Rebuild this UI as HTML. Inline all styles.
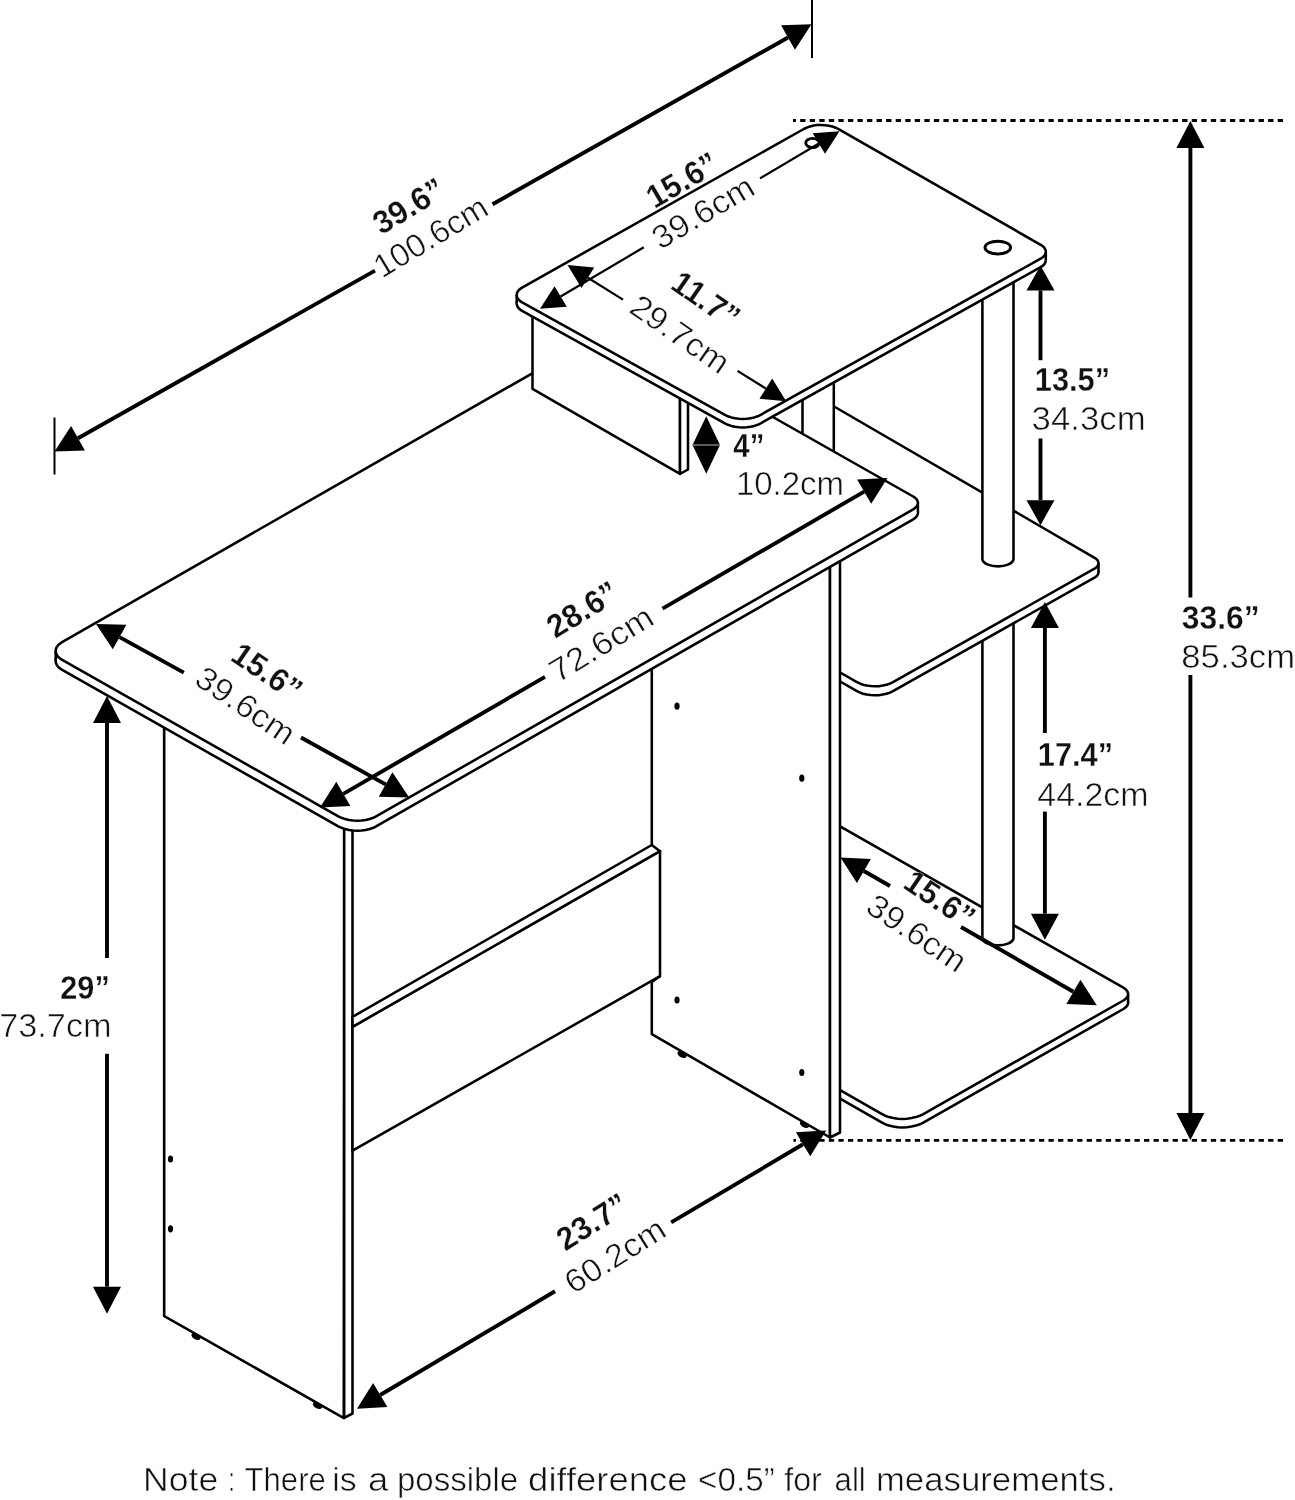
<!DOCTYPE html>
<html><head><meta charset="utf-8"><title>Desk dimensions</title>
<style>
html,body{margin:0;padding:0;background:#fff;}
body{width:1295px;height:1500px;overflow:hidden;}
svg{display:block;filter:grayscale(1);}
text{font-family:"Liberation Sans",sans-serif;fill:#111;}
text.r{stroke:#fff;stroke-width:0.55px;}
text.b{stroke:#fff;stroke-width:0.3px;}
</style></head><body>
<svg width="1295" height="1500" viewBox="0 0 1295 1500">
<rect width="1295" height="1500" fill="#fff"/>
<clipPath id="cR"><rect x="839" y="0" width="500" height="1500"/></clipPath>
<g clip-path="url(#cR)">
<path d="M820.0 823.5 L1123.4 996.2 L1125.0 997.3 L1126.3 998.5 L1127.3 999.8 L1127.9 1001.2 L1128.1 1002.6 L1127.9 1004.0 L1127.3 1005.4 L1126.3 1006.7 L1125.0 1007.9 L1123.4 1009.0 L923.3 1122.6 L919.8 1124.3 L915.8 1125.6 L911.5 1126.6 L907.0 1127.2 L902.4 1127.4 L897.8 1127.2 L893.3 1126.6 L889.0 1125.6 L885.1 1124.2 L881.6 1122.4 L820.0 1087.0 Z" fill="#fff" stroke="#000" stroke-width="2.55" stroke-linejoin="round" stroke-linecap="round" />
<path d="M820.0 815.0 L1128.1 994.1 L1128.1 1002.6 L820.0 823.5 Z" fill="#fff" stroke="none"/>
<line x1="820.0" y1="815.0" x2="820.0" y2="823.5" stroke="#000" stroke-width="2.55" stroke-linecap="butt"/>
<line x1="1128.1" y1="994.1" x2="1128.1" y2="1002.6" stroke="#000" stroke-width="2.55" stroke-linecap="butt"/>
<path d="M820.0 815.0 L1123.4 987.7 L1125.0 988.8 L1126.3 990.0 L1127.3 991.3 L1127.9 992.7 L1128.1 994.1 L1127.9 995.5 L1127.3 996.9 L1126.3 998.2 L1125.0 999.4 L1123.4 1000.5 L923.3 1114.1 L919.8 1115.8 L915.8 1117.1 L911.5 1118.1 L907.0 1118.7 L902.4 1118.9 L897.8 1118.7 L893.3 1118.1 L889.0 1117.1 L885.1 1115.7 L881.6 1113.9 L820.0 1078.5 Z" fill="#fff" stroke="#000" stroke-width="2.55" stroke-linejoin="round" stroke-linecap="round" />
</g>
<path d="M982.4 600.0 L982.4 938.5 A15.6 7.5 0 0 0 1013.5 938.5 L1013.5 600.0 Z" fill="#fff" stroke="#000" stroke-width="2.55"/>
<clipPath id="cM"><path d="M833.75 0 H1400 V1500 H839 V560 H833.75 Z"/></clipPath>
<g clip-path="url(#cM)">
<path d="M820.0 407.3 L1094.6 566.8 L1096.0 567.7 L1097.1 568.7 L1097.9 569.9 L1098.3 571.1 L1098.5 572.3 L1098.3 573.5 L1097.8 574.6 L1097.0 575.8 L1095.9 576.8 L1094.5 577.7 L893.0 691.1 L889.9 692.6 L886.5 693.8 L882.7 694.6 L878.8 695.2 L874.7 695.3 L870.7 695.1 L866.8 694.6 L863.0 693.7 L859.6 692.4 L856.5 690.9 L820.0 669.9 Z" fill="#fff" stroke="#000" stroke-width="2.55" stroke-linejoin="round" stroke-linecap="round" />
<path d="M820.0 398.3 L1098.5 563.3 L1098.5 572.3 L820.0 407.3 Z" fill="#fff" stroke="none"/>
<line x1="820.0" y1="398.3" x2="820.0" y2="407.3" stroke="#000" stroke-width="2.55" stroke-linecap="butt"/>
<line x1="1098.5" y1="563.3" x2="1098.5" y2="572.3" stroke="#000" stroke-width="2.55" stroke-linecap="butt"/>
<path d="M820.0 398.3 L1094.6 557.8 L1096.0 558.7 L1097.1 559.7 L1097.9 560.9 L1098.3 562.1 L1098.5 563.3 L1098.3 564.5 L1097.8 565.6 L1097.0 566.8 L1095.9 567.8 L1094.5 568.7 L893.0 682.1 L889.9 683.6 L886.5 684.8 L882.7 685.6 L878.8 686.2 L874.7 686.3 L870.7 686.1 L866.8 685.6 L863.0 684.7 L859.6 683.4 L856.5 681.9 L820.0 660.9 Z" fill="#fff" stroke="#000" stroke-width="2.55" stroke-linejoin="round" stroke-linecap="round" />
</g>
<path d="M982.4 250.0 L982.4 559.5 A15.6 7.5 0 0 0 1013.5 559.5 L1013.5 250.0 Z" fill="#fff" stroke="#000" stroke-width="2.55"/>
<rect x="802.5" y="330" width="31.25" height="125" fill="#fff" stroke="none"/>
<line x1="802.5" y1="330.0" x2="802.5" y2="440.0" stroke="#000" stroke-width="2.55" stroke-linecap="butt"/>
<line x1="833.8" y1="330.0" x2="833.8" y2="455.0" stroke="#000" stroke-width="2.55" stroke-linecap="butt"/>
<path d="M164.2 700.0 L164.2 1316.0 L343.8 1418.0 L344.2 800.0 Z" fill="#fff" stroke="#000" stroke-width="2.55" stroke-linejoin="round" stroke-linecap="round" />
<ellipse cx="196.0" cy="1336.5" rx="5" ry="3" fill="#000" transform="rotate(30 196.0 1336.5)"/>
<ellipse cx="317.5" cy="1405.5" rx="5" ry="3" fill="#000" transform="rotate(30 317.5 1405.5)"/>
<path d="M164.2 700.0 L164.2 1316.0 L343.8 1418.0 L344.2 800.0 Z" fill="#fff" stroke="#000" stroke-width="2.55" stroke-linejoin="round" stroke-linecap="round" />
<path d="M344.2 800.0 L344.2 1417.8 L352.5 1413.5 L352.5 800.0 Z" fill="#fff" stroke="#000" stroke-width="2.55" stroke-linejoin="round" stroke-linecap="round" />
<ellipse cx="170.5" cy="1159.0" rx="2.6" ry="3.6" fill="#000"/>
<ellipse cx="170.5" cy="1228.8" rx="2.6" ry="3.6" fill="#000"/>
<ellipse cx="682.0" cy="1054.5" rx="5" ry="3" fill="#000" transform="rotate(30 682.0 1054.5)"/>
<ellipse cx="804.5" cy="1124.5" rx="5" ry="3" fill="#000" transform="rotate(30 804.5 1124.5)"/>
<path d="M651.8 640.0 L651.8 1034.2 L830.0 1137.5 L830.0 540.0 Z" fill="#fff" stroke="#000" stroke-width="2.55" stroke-linejoin="round" stroke-linecap="round" />
<ellipse cx="677.0" cy="706.2" rx="2.6" ry="3.6" fill="#000"/>
<ellipse cx="801.8" cy="778.2" rx="2.6" ry="3.6" fill="#000"/>
<ellipse cx="677.0" cy="1000.0" rx="2.6" ry="3.6" fill="#000"/>
<ellipse cx="801.8" cy="1072.5" rx="2.6" ry="3.6" fill="#000"/>
<path d="M830.0 540.0 L830.0 1137.5 L840.0 1132.5 L840.0 540.0 Z" fill="#fff" stroke="#000" stroke-width="2.55" stroke-linejoin="round" stroke-linecap="round" />
<path d="M352.5 1026.8 L660.0 851.2 L660.0 976.2 L352.5 1150.6 Z" fill="#fff" stroke="#000" stroke-width="2.55" stroke-linejoin="round" stroke-linecap="round" />
<path d="M352.5 1016.8 L651.8 845.0 L660.0 851.2 L352.5 1026.8 Z" fill="#fff" stroke="#000" stroke-width="2.55" stroke-linejoin="round" stroke-linecap="round" />
<line x1="660.0" y1="976.2" x2="651.8" y2="982.0" stroke="#000" stroke-width="2.55" stroke-linecap="butt"/>
<path d="M62.1 652.1 L59.9 653.6 L58.1 655.3 L56.7 657.1 L55.9 659.0 L55.7 661.0 L55.9 663.0 L56.8 664.9 L58.1 666.7 L59.9 668.4 L62.2 669.9 L338.3 826.3 L341.5 827.8 L345.1 829.1 L349.0 830.0 L353.2 830.5 L357.4 830.7 L361.6 830.5 L365.7 830.0 L369.7 829.0 L373.3 827.8 L376.5 826.2 L913.2 519.4 L914.8 518.3 L916.1 517.0 L917.1 515.7 L917.7 514.3 L917.9 512.9 L917.7 511.5 L917.1 510.1 L916.1 508.8 L914.8 507.6 L913.2 506.5 L613.6 336.8 Z" fill="#fff" stroke="#000" stroke-width="2.55" stroke-linejoin="round" stroke-linecap="round" />
<path d="M55.7 651.0 L917.9 502.9 L917.9 512.9 L55.7 661.0 Z" fill="#fff" stroke="none"/>
<line x1="55.7" y1="651.0" x2="55.7" y2="661.0" stroke="#000" stroke-width="2.55" stroke-linecap="butt"/>
<line x1="917.9" y1="502.9" x2="917.9" y2="512.9" stroke="#000" stroke-width="2.55" stroke-linecap="butt"/>
<path d="M62.1 642.1 L59.9 643.6 L58.1 645.3 L56.7 647.1 L55.9 649.0 L55.7 651.0 L55.9 653.0 L56.8 654.9 L58.1 656.7 L59.9 658.4 L62.2 659.9 L338.3 816.3 L341.5 817.8 L345.1 819.1 L349.0 820.0 L353.2 820.5 L357.4 820.7 L361.6 820.5 L365.7 820.0 L369.7 819.0 L373.3 817.8 L376.5 816.2 L913.2 509.4 L914.8 508.3 L916.1 507.0 L917.1 505.7 L917.7 504.3 L917.9 502.9 L917.7 501.5 L917.1 500.1 L916.1 498.8 L914.8 497.6 L913.2 496.5 L613.6 326.8 Z" fill="#fff" stroke="#000" stroke-width="2.55" stroke-linejoin="round" stroke-linecap="round" />
<path d="M532.5 300.0 L532.5 388.8 L680.0 473.8 L680.0 380.0 Z" fill="#fff" stroke="#000" stroke-width="2.55" stroke-linejoin="round" stroke-linecap="round" />
<path d="M680.0 380.0 L680.0 473.8 L688.0 469.5 L688.0 380.0 Z" fill="#fff" stroke="#000" stroke-width="2.55" stroke-linejoin="round" stroke-linecap="round" />
<path d="M522.1 296.1 L520.2 297.4 L518.7 298.8 L517.6 300.3 L516.9 301.9 L516.7 303.5 L516.9 305.1 L517.6 306.7 L518.7 308.2 L520.2 309.6 L522.1 310.8 L724.9 423.3 L727.9 424.8 L731.3 425.9 L735.0 426.8 L738.8 427.3 L742.8 427.5 L746.8 427.3 L750.6 426.8 L754.3 425.9 L757.7 424.8 L760.7 423.3 L1040.7 267.1 L1042.4 266.0 L1043.9 264.7 L1044.9 263.3 L1045.5 261.8 L1045.8 260.3 L1045.6 258.7 L1044.9 257.2 L1043.9 255.8 L1042.5 254.5 L1040.7 253.3 L838.6 137.6 L835.6 136.2 L832.3 135.0 L828.8 134.2 L825.0 133.7 L821.2 133.5 L817.3 133.6 L813.6 134.1 L810.0 135.0 L806.7 136.1 L803.8 137.5 Z" fill="#fff" stroke="#000" stroke-width="2.55" stroke-linejoin="round" stroke-linecap="round" />
<path d="M516.7 295.0 L1045.8 251.8 L1045.8 260.3 L516.7 303.5 Z" fill="#fff" stroke="none"/>
<line x1="516.7" y1="295.0" x2="516.7" y2="303.5" stroke="#000" stroke-width="2.55" stroke-linecap="butt"/>
<line x1="1045.8" y1="251.8" x2="1045.8" y2="260.3" stroke="#000" stroke-width="2.55" stroke-linecap="butt"/>
<path d="M522.1 287.6 L520.2 288.9 L518.7 290.3 L517.6 291.8 L516.9 293.4 L516.7 295.0 L516.9 296.6 L517.6 298.2 L518.7 299.7 L520.2 301.1 L522.1 302.3 L724.9 414.8 L727.9 416.3 L731.3 417.4 L735.0 418.3 L738.8 418.8 L742.8 419.0 L746.8 418.8 L750.6 418.3 L754.3 417.4 L757.7 416.3 L760.7 414.8 L1040.7 258.6 L1042.4 257.5 L1043.9 256.2 L1044.9 254.8 L1045.5 253.3 L1045.8 251.8 L1045.6 250.2 L1044.9 248.7 L1043.9 247.3 L1042.5 246.0 L1040.7 244.8 L838.6 129.1 L835.6 127.7 L832.3 126.5 L828.8 125.7 L825.0 125.2 L821.2 125.0 L817.3 125.1 L813.6 125.6 L810.0 126.5 L806.7 127.6 L803.8 129.0 Z" fill="#fff" stroke="#000" stroke-width="2.55" stroke-linejoin="round" stroke-linecap="round" />
<ellipse cx="997.8" cy="247.6" rx="12.8" ry="6.4" fill="#fff" stroke="#000" stroke-width="2.9"/>
<ellipse cx="812.5" cy="143" rx="6.8" ry="4.6" fill="#fff" stroke="#000" stroke-width="2.8"/>
<path d="M54.5 451.5 L71.1 426.0 L84.9 450.4 Z" fill="#000"/>
<path d="M811.5 24.2 L794.9 49.7 L781.1 25.3 Z" fill="#000"/>
<line x1="78.0" y1="438.2" x2="375.0" y2="270.6" stroke="#000" stroke-width="3.90" stroke-linecap="butt"/>
<line x1="492.5" y1="204.3" x2="788.0" y2="37.5" stroke="#000" stroke-width="3.90" stroke-linecap="butt"/>
<line x1="54.5" y1="417.5" x2="54.5" y2="474.5" stroke="#000" stroke-width="2.00" stroke-linecap="butt"/>
<line x1="812.0" y1="0.0" x2="812.0" y2="58.0" stroke="#000" stroke-width="2.00" stroke-linecap="butt"/>
<text transform="translate(408.5 206.0) rotate(-31.0)" text-anchor="middle" y="11.2" font-size="32.5" font-weight="bold" class="b" textLength="77.2" lengthAdjust="spacingAndGlyphs">39.6”</text>
<text transform="translate(430.6 236.6) rotate(-31.0)" text-anchor="middle" y="11.2" font-size="32.5" class="r" textLength="126.7" lengthAdjust="spacingAndGlyphs">100.6cm</text>
<line x1="1283" y1="120.5" x2="793" y2="120.5" stroke="#000" stroke-width="2.8" stroke-dasharray="5.3 4.25"/>
<line x1="1283" y1="1140.3" x2="793.5" y2="1140.3" stroke="#000" stroke-width="2.8" stroke-dasharray="5.3 4.25"/>
<path d="M1190.4 121.0 L1204.4 148.0 L1176.4 148.0 Z" fill="#000"/>
<path d="M1190.4 1140.0 L1176.4 1113.0 L1204.4 1113.0 Z" fill="#000"/>
<line x1="1190.4" y1="148.0" x2="1190.4" y2="597.4" stroke="#000" stroke-width="3.90" stroke-linecap="butt"/>
<line x1="1190.4" y1="675.0" x2="1190.4" y2="1113.0" stroke="#000" stroke-width="3.90" stroke-linecap="butt"/>
<text transform="translate(1220.7 617.5) rotate(0.0)" text-anchor="middle" y="11.2" font-size="32.5" font-weight="bold" class="b" textLength="77.7" lengthAdjust="spacingAndGlyphs">33.6”</text>
<text transform="translate(1238.2 656.7) rotate(0.0)" text-anchor="middle" y="11.2" font-size="32.5" class="r" textLength="113.8" lengthAdjust="spacingAndGlyphs">85.3cm</text>
<path d="M1040.5 265.5 L1054.5 290.5 L1026.5 290.5 Z" fill="#000"/>
<path d="M1040.5 525.2 L1026.5 500.2 L1054.5 500.2 Z" fill="#000"/>
<line x1="1040.5" y1="290.5" x2="1040.5" y2="360.2" stroke="#000" stroke-width="3.90" stroke-linecap="butt"/>
<line x1="1040.5" y1="438.5" x2="1040.5" y2="500.2" stroke="#000" stroke-width="3.90" stroke-linecap="butt"/>
<text transform="translate(1072.4 379.5) rotate(0.0)" text-anchor="middle" y="11.2" font-size="32.5" font-weight="bold" class="b" textLength="75.2" lengthAdjust="spacingAndGlyphs">13.5”</text>
<text transform="translate(1088.6 419.2) rotate(0.0)" text-anchor="middle" y="11.2" font-size="32.5" class="r" textLength="114.0" lengthAdjust="spacingAndGlyphs">34.3cm</text>
<path d="M1044.9 602.0 L1058.9 628.0 L1030.9 628.0 Z" fill="#000"/>
<path d="M1044.9 939.7 L1030.9 913.7 L1058.9 913.7 Z" fill="#000"/>
<line x1="1044.9" y1="628.0" x2="1044.9" y2="733.0" stroke="#000" stroke-width="3.90" stroke-linecap="butt"/>
<line x1="1044.9" y1="811.6" x2="1044.9" y2="913.7" stroke="#000" stroke-width="3.90" stroke-linecap="butt"/>
<text transform="translate(1075.4 754.8) rotate(0.0)" text-anchor="middle" y="11.2" font-size="32.5" font-weight="bold" class="b" textLength="75.2" lengthAdjust="spacingAndGlyphs">17.4”</text>
<text transform="translate(1092.9 794.4) rotate(0.0)" text-anchor="middle" y="11.2" font-size="32.5" class="r" textLength="111.2" lengthAdjust="spacingAndGlyphs">44.2cm</text>
<path d="M107.0 696.0 L121.0 723.0 L93.0 723.0 Z" fill="#000"/>
<path d="M107.0 1313.7 L93.0 1286.7 L121.0 1286.7 Z" fill="#000"/>
<line x1="107.0" y1="723.0" x2="107.0" y2="958.0" stroke="#000" stroke-width="3.90" stroke-linecap="butt"/>
<line x1="107.0" y1="1053.8" x2="107.0" y2="1286.7" stroke="#000" stroke-width="3.90" stroke-linecap="butt"/>
<text transform="translate(85.0 987.7) rotate(0.0)" text-anchor="middle" y="11.2" font-size="32.5" font-weight="bold" class="b" textLength="49.4" lengthAdjust="spacingAndGlyphs">29”</text>
<text transform="translate(55.4 1025.7) rotate(0.0)" text-anchor="middle" y="11.2" font-size="32.5" class="r" textLength="112.3" lengthAdjust="spacingAndGlyphs">73.7cm</text>
<path d="M357.0 1408.8 L373.1 1382.9 L387.4 1407.0 Z" fill="#000"/>
<path d="M826.2 1130.5 L810.2 1156.3 L795.9 1132.2 Z" fill="#000"/>
<line x1="380.2" y1="1395.0" x2="555.0" y2="1291.3" stroke="#000" stroke-width="3.90" stroke-linecap="butt"/>
<line x1="671.2" y1="1222.4" x2="803.0" y2="1144.3" stroke="#000" stroke-width="3.90" stroke-linecap="butt"/>
<text transform="translate(592.0 1221.7) rotate(-32.0)" text-anchor="middle" y="11.2" font-size="32.5" font-weight="bold" class="b" textLength="77.2" lengthAdjust="spacingAndGlyphs">23.7”</text>
<text transform="translate(615.0 1255.5) rotate(-32.0)" text-anchor="middle" y="11.2" font-size="32.5" class="r" textLength="112.3" lengthAdjust="spacingAndGlyphs">60.2cm</text>
<path d="M320.0 807.5 L336.3 781.8 L350.4 806.1 Z" fill="#000"/>
<path d="M887.5 478.0 L871.2 503.7 L857.1 479.4 Z" fill="#000"/>
<line x1="343.3" y1="793.9" x2="545.0" y2="676.9" stroke="#000" stroke-width="3.90" stroke-linecap="butt"/>
<line x1="662.5" y1="608.6" x2="864.2" y2="491.6" stroke="#000" stroke-width="3.90" stroke-linecap="butt"/>
<text transform="translate(582.3 609.4) rotate(-31.5)" text-anchor="middle" y="11.2" font-size="32.5" font-weight="bold" class="b" textLength="77.2" lengthAdjust="spacingAndGlyphs">28.6”</text>
<text transform="translate(601.2 643.9) rotate(-31.5)" text-anchor="middle" y="11.2" font-size="32.5" class="r" textLength="115.4" lengthAdjust="spacingAndGlyphs">72.6cm</text>
<path d="M96.0 624.0 L126.4 624.8 L112.8 649.3 Z" fill="#000"/>
<path d="M409.2 797.5 L378.8 796.7 L392.4 772.2 Z" fill="#000"/>
<line x1="119.6" y1="637.1" x2="183.8" y2="672.6" stroke="#000" stroke-width="3.90" stroke-linecap="butt"/>
<line x1="301.0" y1="737.5" x2="385.6" y2="784.4" stroke="#000" stroke-width="3.90" stroke-linecap="butt"/>
<text transform="translate(267.2 671.7) rotate(34.0)" text-anchor="middle" y="11.2" font-size="32.5" font-weight="bold" class="b" textLength="77.2" lengthAdjust="spacingAndGlyphs">15.6”</text>
<text transform="translate(245.6 705.4) rotate(34.0)" text-anchor="middle" y="11.2" font-size="32.5" class="r" textLength="112.3" lengthAdjust="spacingAndGlyphs">39.6cm</text>
<path d="M840.5 857.5 L870.9 858.9 L856.9 883.1 Z" fill="#000"/>
<path d="M1096.8 1005.3 L1066.4 1003.9 L1080.4 979.7 Z" fill="#000"/>
<line x1="863.9" y1="871.0" x2="890.0" y2="886.0" stroke="#000" stroke-width="3.90" stroke-linecap="butt"/>
<line x1="961.0" y1="927.0" x2="1073.4" y2="991.8" stroke="#000" stroke-width="3.90" stroke-linecap="butt"/>
<text transform="translate(939.8 899.3) rotate(34.0)" text-anchor="middle" y="11.2" font-size="32.5" font-weight="bold" class="b" textLength="77.2" lengthAdjust="spacingAndGlyphs">15.6”</text>
<text transform="translate(916.9 933.1) rotate(34.0)" text-anchor="middle" y="11.2" font-size="32.5" class="r" textLength="112.3" lengthAdjust="spacingAndGlyphs">39.6cm</text>
<path d="M540.0 308.8 L554.5 286.2 L566.8 306.8 Z" fill="#000"/>
<path d="M839.5 131.2 L825.0 153.8 L812.7 133.2 Z" fill="#000"/>
<line x1="560.6" y1="296.5" x2="643.8" y2="247.3" stroke="#000" stroke-width="2.20" stroke-linecap="butt"/>
<line x1="760.0" y1="178.4" x2="818.9" y2="143.5" stroke="#000" stroke-width="2.20" stroke-linecap="butt"/>
<text transform="translate(682.0 180.0) rotate(-30.5)" text-anchor="middle" y="11.2" font-size="32.5" font-weight="bold" class="b" textLength="77.2" lengthAdjust="spacingAndGlyphs">15.6”</text>
<text transform="translate(703.0 212.0) rotate(-30.5)" text-anchor="middle" y="11.2" font-size="32.5" class="r" textLength="112.3" lengthAdjust="spacingAndGlyphs">39.6cm</text>
<path d="M567.5 265.0 L594.2 267.5 L581.5 287.9 Z" fill="#000"/>
<path d="M786.2 401.2 L759.5 398.7 L772.2 378.4 Z" fill="#000"/>
<line x1="587.9" y1="277.7" x2="623.0" y2="299.6" stroke="#000" stroke-width="2.20" stroke-linecap="butt"/>
<line x1="737.5" y1="370.9" x2="765.9" y2="388.6" stroke="#000" stroke-width="2.20" stroke-linecap="butt"/>
<text transform="translate(706.0 299.5) rotate(34.5)" text-anchor="middle" y="11.2" font-size="32.5" font-weight="bold" class="b" textLength="74.2" lengthAdjust="spacingAndGlyphs">11.7”</text>
<text transform="translate(680.0 334.0) rotate(34.5)" text-anchor="middle" y="11.2" font-size="32.5" class="r" textLength="112.3" lengthAdjust="spacingAndGlyphs">29.7cm</text>
<path d="M706.25 416.25 L720 445 L706.25 473.75 L692.5 445 Z" fill="#000"/>
<line x1="692.5" y1="445.0" x2="720.0" y2="445.0" stroke="#999" stroke-width="1.20" stroke-linecap="butt"/>
<text transform="translate(748.8 446.2) rotate(0.0)" text-anchor="middle" y="11.2" font-size="32.5" font-weight="bold" class="b" textLength="30.9" lengthAdjust="spacingAndGlyphs">4”</text>
<text transform="translate(790.0 484.2) rotate(0.0)" text-anchor="middle" y="11.2" font-size="32.5" class="r" textLength="108.2" lengthAdjust="spacingAndGlyphs">10.2cm</text>
<text class="r" x="143.1" y="1491" font-size="32.5" textLength="75.1" lengthAdjust="spacingAndGlyphs">Note</text>
<text class="r" x="228.3" y="1491" font-size="32.5" textLength="6.7" lengthAdjust="spacingAndGlyphs">:</text>
<text class="r" x="244.6" y="1491" font-size="32.5" textLength="81.2" lengthAdjust="spacingAndGlyphs">There</text>
<text class="r" x="332.2" y="1491" font-size="32.5" textLength="24.3" lengthAdjust="spacingAndGlyphs">is</text>
<text class="r" x="368.0" y="1491" font-size="32.5" textLength="20.3" lengthAdjust="spacingAndGlyphs">a</text>
<text class="r" x="396.9" y="1491" font-size="32.5" textLength="121.3" lengthAdjust="spacingAndGlyphs">possible</text>
<text class="r" x="528.1" y="1491" font-size="32.5" textLength="159.5" lengthAdjust="spacingAndGlyphs">difference</text>
<text class="r" x="698.1" y="1491" font-size="32.5" textLength="76.7" lengthAdjust="spacingAndGlyphs">&lt;0.5”</text>
<text class="r" x="784.2" y="1491" font-size="32.5" textLength="37.6" lengthAdjust="spacingAndGlyphs">for</text>
<text class="r" x="834.5" y="1491" font-size="32.5" textLength="31.3" lengthAdjust="spacingAndGlyphs">all</text>
<text class="r" x="875.9" y="1491" font-size="32.5" textLength="239.7" lengthAdjust="spacingAndGlyphs">measurements.</text>
</svg>
</body></html>
